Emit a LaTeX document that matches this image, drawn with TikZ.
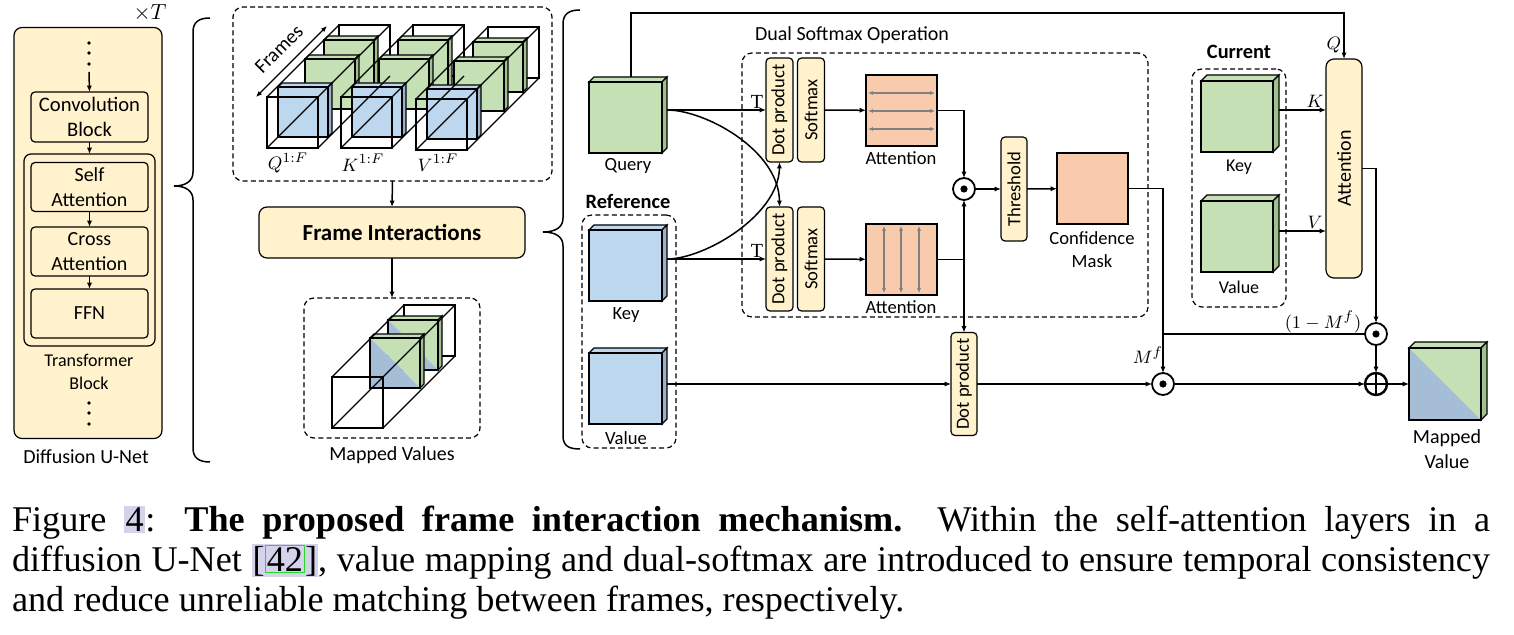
\documentclass[tikz,border=0pt]{standalone}
\usepackage{fontspec}
\usepackage{graphicx}
\setmainfont{Liberation Serif}
\newfontfamily\labf{Carlito}
\usetikzlibrary{arrows.meta,calc}
\definecolor{ylw}{HTML}{FFF2CC}
\definecolor{grn}{HTML}{C5E0B4}
\definecolor{grnS}{HTML}{A0C08E}
\definecolor{blu}{HTML}{BDD7EE}
\definecolor{bluS}{HTML}{9AB2CE}
\definecolor{sal}{HTML}{F8CBAD}
\definecolor{mblu}{HTML}{A6BDD6}
\definecolor{lav}{HTML}{D3D3EC}
\definecolor{hlg}{HTML}{22DD22}

\newcommand\mkcube[8]{%
  \filldraw[fill=#7,line width=0.6pt] (#2,#3) -- ++(#6,-#6) -- ++(#4,0) -- ++(-#6,#6) -- cycle;
  \filldraw[fill=#8,line width=0.6pt] (#2+#4,#3) -- ++(#6,-#6) -- ++(0,#5) -- ++(-#6,#6) -- cycle;
  \node[draw, fill=#7, line width=0.6pt, sz={#4}{#5}, anchor=north west] (#1) at (#2,#3) {};
}
\newcommand\mkslab[4]{% x y face side
  \filldraw[fill=#3,line width=0.6pt] (#1,#2) -- ++(4,-4) -- ++(50,0) -- ++(-4,4) -- cycle;
  \filldraw[fill=#4,line width=0.6pt] (#1+50,#2) -- ++(4,-4) -- ++(0,50) -- ++(-4,4) -- cycle;
  \filldraw[fill=#3,line width=0.6pt] (#1,#2) rectangle ++(50,50);
}
\newcommand\mkdslab[4]{% x y size thickness
  \filldraw[fill=grn,line width=0.6pt] (#1,#2) -- ++(#4,-#4) -- ++(#3,0) -- ++(-#4,#4) -- cycle;
  \filldraw[fill=grnS,line width=0.6pt] (#1+#3,#2) -- ++(#4,-#4) -- ++(0,#3) -- ++(-#4,#4) -- cycle;
  \fill[grn] (#1,#2) -- ++(#3,0) -- ++(0,#3) -- cycle;
  \fill[mblu] (#1,#2) -- ++(0,#3) -- ++(#3,0) -- cycle;
  \draw[line width=0.6pt] (#1,#2) rectangle ++(#3,#3);
}
\newcommand\mkwireback[4]{% x y size depth : back face
  \draw[wire] (#1+#4,#2-#4) rectangle ++(#3,#3);
}
\newcommand\mkwirefront[4]{% x y size depth : front face and edges
  \draw[wire] (#1,#2) rectangle ++(#3,#3);
  \draw[wire] (#1,#2) -- ++(#4,-#4) (#1+#3,#2) -- ++(#4,-#4)
              (#1,#2+#3) -- ++(#4,-#4) (#1+#3,#2+#3) -- ++(#4,-#4);
}
\newcommand\mkgroup[2]{%
  \mkslab{#1+57}{#2-57}{grn}{grnS}
  \mkslab{#1+38}{#2-38}{grn}{grnS}
  \mkslab{#1+11}{#2-10}{blu}{bluS}
}
\newcommand\hlx[1]{{\fboxsep=0.8pt\colorbox{lav}{#1}}}

\tikzset{
  x=0.5pt,y=-0.5pt,
  every node/.style={font=\labf\fontsize{9.3}{11.5}\selectfont, inner sep=0pt, outer sep=0pt},
  sz/.style 2 args={minimum width=#1*0.5pt, minimum height=#2*0.5pt},
  ybox/.style={draw, fill=ylw, rounded corners=2pt, line width=0.6pt, align=center},
  dbox/.style={draw, dashed, dash pattern=on 2.5pt off 1.6pt, rounded corners=5pt, line width=0.6pt},
  arr/.style={-{Latex[length=3.2pt,width=2.6pt]}, line width=0.75pt},
  garr/.style={{Latex[length=2.4pt,width=2pt]}-{Latex[length=2.4pt,width=2pt]}, line width=0.6pt, draw=gray},
  ln/.style={line width=0.75pt},
  wire/.style={line width=0.6pt},
  odot/.style={circle, draw, fill=white, line width=0.9pt, minimum size=11pt},
  mth/.style={font=\fontsize{9.5}{11}\selectfont},
  bld/.style={font=\labf\bfseries\fontsize{10.2}{12}\selectfont},
  serif/.style={font=\rmfamily\fontsize{10}{12}\selectfont},
  f10/.style={font=\labf\fontsize{10}{12.5}\selectfont},
  capf/.style={anchor=base west, font=\rmfamily\fontsize{18.1}{20}\selectfont},
}

\begin{document}
\begin{tikzpicture}
\useasboundingbox (0,0) rectangle (1514,635);

% ---------------- left: Diffusion U-Net
\node[ybox, rounded corners=4pt, sz={148}{411}] (unet) at (88,233) {};
\node[mth, font=\fontsize{11}{12}\selectfont] (xT) at (150,13) {$\times T$};
\foreach \yy in {43,53,64} \fill (89,\yy) circle (0.9pt);
\coordinate (dtop) at (89,72);
\node[ybox, sz={117}{50}, font=\labf\fontsize{10.3}{12.3}\selectfont] (conv) at (89.5,117) {Convolution\\Block};
\node[draw, rounded corners=3.5pt, line width=0.6pt, sz={131}{192}] (tb) at (89.5,250) {};
\node[ybox, f10, sz={117}{49}] (sa) at (89.5,187) {Self\\Attention};
\node[ybox, f10, sz={117}{49}] (ca) at (89.5,251.5) {Cross\\Attention};
\node[ybox, f10, sz={117}{49}] (ffn) at (89.5,313.5) {FFN};
\node[align=center, font=\labf\fontsize{9}{11.5}\selectfont] (tbl) at (89,372) {Transformer\\Block};
\foreach \yy in {403,413,424} \fill (89,\yy) circle (0.9pt);
\node[f10] (unetl) at (86,457) {Diffusion U-Net};
\draw[arr] (dtop) -- (conv.north);
\draw[arr] (conv.south) -- (tb.north);
\draw[arr] (sa) -- (ca);
\draw[arr] (ca) -- (ffn);

% ---------------- braces
\draw[ln] (210,18) .. controls (199,18) and (193,22) .. (193,32) -- (193,172)
  .. controls (193,181) and (186,186) .. (174,186)
  .. controls (186,186) and (193,191) .. (193,200) -- (193,448)
  .. controls (193,458) and (199,462) .. (210,462);
\draw[ln] (580,10) .. controls (569,10) and (563,14) .. (563,24) -- (563,218)
  .. controls (563,227) and (556,232) .. (543,232)
  .. controls (556,232) and (563,237) .. (563,246) -- (563,436)
  .. controls (563,446) and (569,449) .. (580,449);

% ---------------- frames
\node[dbox, sz={319}{174}] (fbox) at (392.5,94) {};
\mkwireback{267}{97}{51}{72}
\mkwireback{341}{97}{51}{72}
\mkwireback{416}{99}{51}{72}
\mkgroup{267}{97}
\mkgroup{341}{97}
\mkgroup{416}{99}
\mkwirefront{267}{97}{51}{72}
\mkwirefront{341}{97}{51}{72}
\mkwirefront{416}{99}{51}{72}
\coordinate (fa1) at (256,97);
\coordinate (fa2) at (327,26);
\draw[{Latex[length=3pt,width=2.5pt]}-{Latex[length=3pt,width=2.5pt]}, line width=0.7pt] (fa1) -- (fa2);
\node[rotate=45, f10] (frl) at (279,49) {Frames};
\node[mth] (ql) at (288,163) {$Q^{1:F}$};
\node[mth] (kl) at (363,163) {$K^{1:F}$};
\node[mth] (vl) at (438,163) {$V^{1:F}$};

% ---------------- frame interactions / mapped values
\node[ybox, rounded corners=4pt, sz={266}{51}, font=\labf\bfseries\fontsize{11.5}{13}\selectfont] (fi) at (392,232.5) {Frame Interactions};
\draw[arr] (fbox.south) -- (fi.north);
\node[dbox, sz={176}{140}] (mvb) at (392,368) {};
\draw[arr] (fi.south) -- (mvb.north);
\mkwireback{332}{377}{51}{72}
\mkdslab{388}{320}{50}{4}
\mkdslab{370}{338}{50}{4}
\mkwirefront{332}{377}{51}{72}
\node[f10] (mvl) at (392,455) {Mapped Values};

% ---------------- query / reference
\mkcube{query}{589}{82}{73}{71}{5}{grn}{grnS}
\node (qlab) at (628,166) {Query};
\node[bld] (reft) at (628,201) {Reference};
\node[dbox, sz={94}{233}] (refb) at (629,331.5) {};
\mkcube{rkey}{589}{230}{73}{71}{5}{blu}{bluS}
\node (rkl) at (626,315) {Key};
\mkcube{rval}{589}{353}{73}{71}{5}{blu}{bluS}
\node (rvl) at (626,438) {Value};

% ---------------- dual softmax
\node[f10] (dso) at (852,35) {Dual Softmax Operation};
\node[dbox, sz={406}{264}] (dsb) at (945,185) {};
\node[ybox, sz={27}{104}] (dp1) at (779.5,110) {\rotatebox{90}{Dot product}};
\node[ybox, sz={27}{104}] (sm1) at (811,110) {\rotatebox{90}{Softmax}};
\node[ybox, sz={27}{104}] (dp2) at (779.5,259) {\rotatebox{90}{Dot product}};
\node[ybox, sz={27}{104}] (sm2) at (811,259) {\rotatebox{90}{Softmax}};
\node[draw, fill=sal, line width=0.6pt, sz={71}{71}] (at1) at (901.5,110.5) {};
\node[draw, fill=sal, line width=0.6pt, sz={71}{71}] (at2) at (901.5,259.5) {};
\node (at1l) at (901,158) {Attention};
\node (at2l) at (901,307) {Attention};
\foreach \yy in {93,111,129} \draw[garr] (868,\yy) -- (935,\yy);
\foreach \xx in {884,901,919} \draw[garr] (\xx,226) -- (\xx,293);
\node[odot] (d1) at (964,189) {};
\fill (d1) circle (1.8pt);
\node[ybox, sz={26}{104}] (th) at (1014,189) {\rotatebox{90}{Threshold}};
\node[draw, fill=sal, line width=0.6pt, sz={71}{71}] (cm) at (1092.5,188.5) {};
\node[align=center] (cml) at (1092,250) {Confidence\\Mask};
\node[ybox, sz={26}{103}] (dp3) at (964,384) {\rotatebox{90}{Dot product}};
\node[odot] (d2) at (1163,384) {};
\fill (d2) circle (1.8pt);
\node[odot] (d3) at (1376,334) {};
\fill (d3) circle (1.8pt);
\node[odot, line width=1.2pt] (op) at (1376,384) {};
\draw[line width=1.2pt] (op.north) -- (op.south) (op.west) -- (op.east);

% ---------------- current
\node[bld] (curt) at (1239,52) {Current};
\node[dbox, sz={94}{238}] (curb) at (1239,188) {};
\mkcube{ckey}{1201}{81}{72}{71}{6}{grn}{grnS}
\node[font=\labf\fontsize{9}{11}\selectfont] (ckl) at (1239,167) {Key};
\mkcube{cval}{1201}{201}{72}{71}{6}{grn}{grnS}
\node[font=\labf\fontsize{9}{11}\selectfont] (cvl) at (1239,287) {Value};
\node[ybox, rounded corners=4pt, sz={36}{219}, font=\labf\fontsize{10}{12}\selectfont] (attn) at (1344,168.5) {\rotatebox{90}{Attention}};

% ---------------- mapped value
\mkdslab{1409}{348}{72}{6}
\node[sz={72}{72}] (mv) at (1445,384) {};
\node[align=center, font=\labf\fontsize{10}{12.5}\selectfont] (mvl2) at (1447,449) {Mapped\\Value};

% ---------------- connectors
\coordinate (qo) at (667,110);
\coordinate (ko) at (667,259);
\coordinate (vo) at (667,384);
\coordinate (qt) at (631,77);
\coordinate (qturn) at (1344,13);
\coordinate (kco) at (1279,110);
\coordinate (vco) at (1279,231);
\draw[arr] (qo) -- (dp1.west);
\draw[arr] (qo) .. controls (705,110) and (779,150) .. (dp2.north);
\draw[arr] (ko) -- (dp2.west);
\draw[arr] (ko) .. controls (705,259) and (779,215) .. (dp1.south);
\node[serif] (t1) at (757,102) {T};
\node[serif] (t2) at (757,251) {T};
\draw[arr] (sm1) -- (at1);
\draw[arr] (sm2) -- (at2);
\draw[arr] (at1.east) -| (d1.north);
\draw[arr] (at2.east) -| (d1.south);
\coordinate (j1) at (d1 |- at2.east);
\draw[arr] (j1) -- (dp3.north);
\draw[arr] (d1) -- (th);
\draw[arr] (th) -- (cm);
\draw[arr] (cm.east) -| (d2.north);
\coordinate (j2) at (d2 |- d3);
\draw[ln] (j2) -- (d3.west);
\draw[arr] (attn.east) -| (d3.north);
\draw[arr] (d3) -- (op);
\draw[arr] (vo) -- (dp3.west);
\draw[arr] (dp3) -- (d2);
\draw[arr] (d2) -- (op);
\draw[arr] (op) -- (mv);
\draw[arr] (qt) |- (qturn) -- (attn.north);
\draw[arr] (kco) -- (kco -| attn.west);
\draw[arr] (vco) -- (vco -| attn.west);
\node[mth] (kk) at (1315,101) {$K$};
\node[mth] (vv) at (1315,222) {$V$};
\node[mth] (qq) at (1334,45) {$Q$};
\node[mth] (omf) at (1323,322) {$(1-M^f)$};
\node[mth] (mf) at (1148,355) {$M^f$};

% ---------------- caption
\node[capf] (cap1) at (12,531)
  {\makebox[739pt][s]{Figure \hlx{4}: \textbf{The proposed frame interaction mechanism.}\ \ Within the self-attention layers in a}};
\node[capf] (cap2) at (12,571)
  {\makebox[739pt][s]{diffusion U-Net {\fboxsep=0.5pt\fboxrule=0.6pt\colorbox{lav}{[\fcolorbox{hlg}{lav}{42}]}}, value mapping and dual-softmax are introduced to ensure temporal consistency}};
\node[capf] (cap3) at (12,611)
  {and reduce unreliable matching between frames, respectively.};
\end{tikzpicture}
\end{document}
